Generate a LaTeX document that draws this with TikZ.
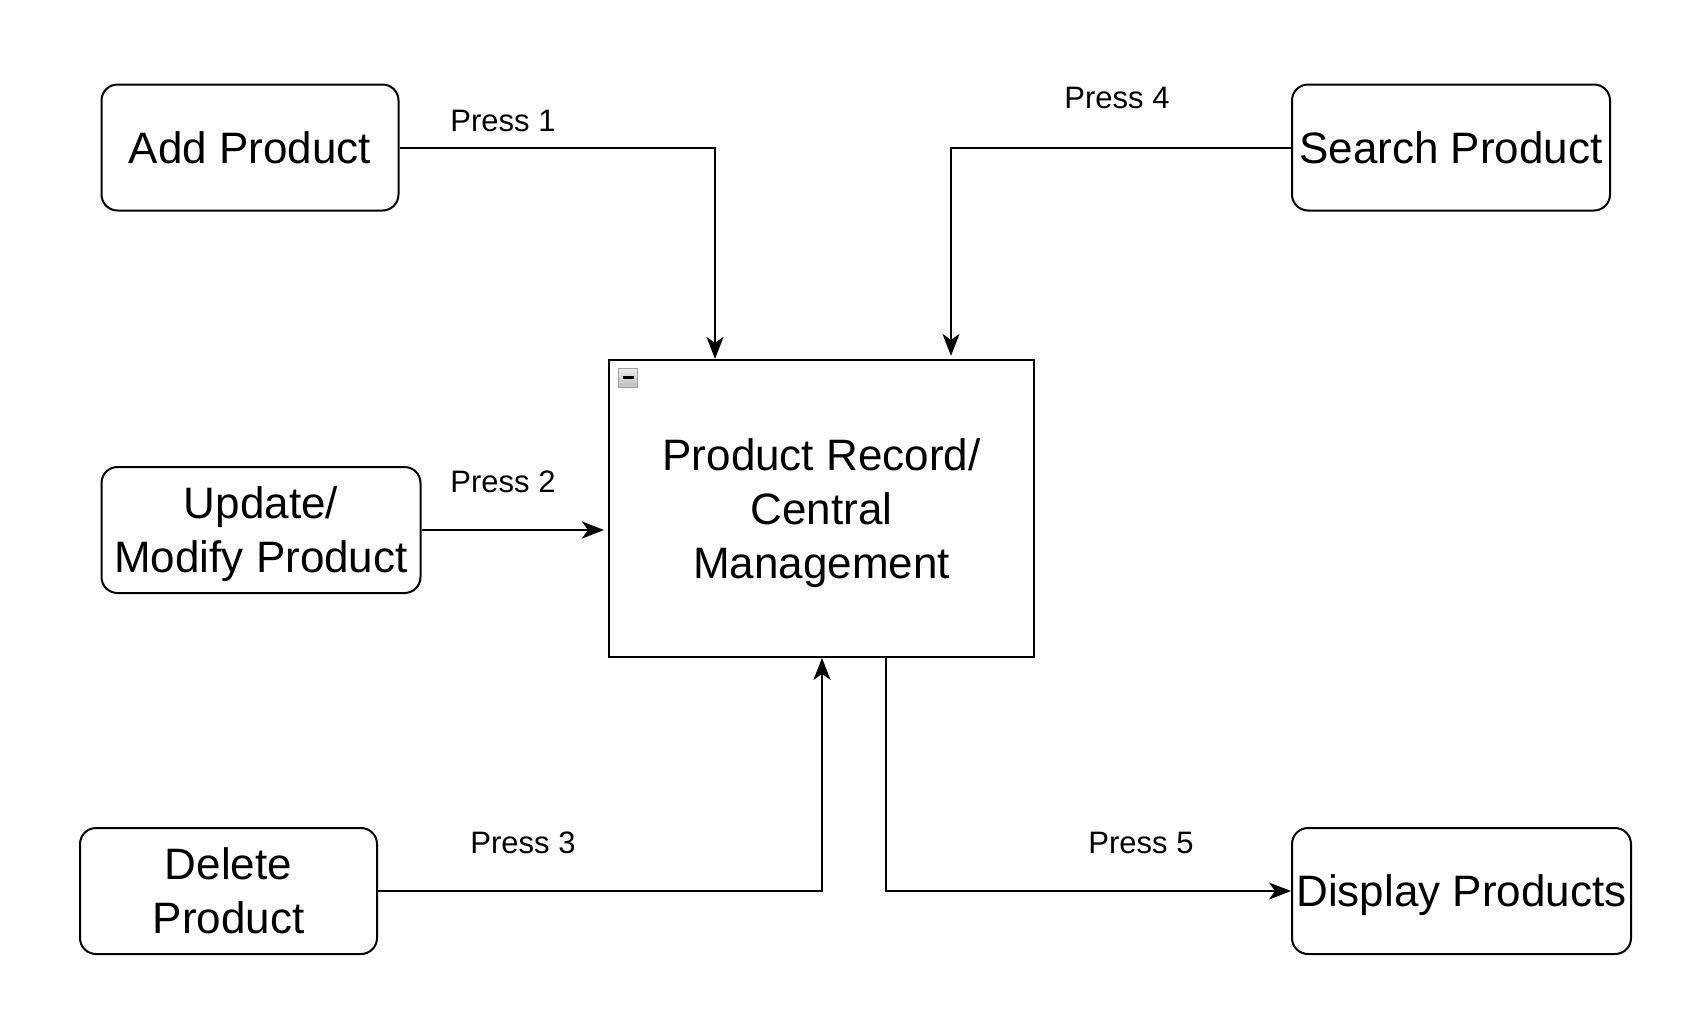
\documentclass[tikz,border=0pt]{standalone}
\usepackage{fontspec}
\setmainfont{Liberation Sans}
\usetikzlibrary{arrows.meta}
\begin{document}
\begin{tikzpicture}[x=1pt,y=-1pt,
  rbox/.style={draw,line width=2pt,rounded corners=16pt,minimum height=126pt,inner sep=0pt},
  cbox/.style={draw,line width=2pt,minimum width=425pt,minimum height=297pt,inner sep=0pt},
  txt/.style={align=center,inner sep=0pt,font=\fontsize{44}{54}\selectfont},
  lbl/.style={font=\fontsize{31}{36}\selectfont,inner sep=0pt},
  conn/.style={line width=2pt,-{Stealth[length=22pt,width=17pt,inset=6pt]}}]
\useasboundingbox (0,0) rectangle (1694,1023);
\node[rbox,minimum width=297pt] (add) at (250,147.5) {};
\node[rbox,minimum width=318pt] (search) at (1451,147.5) {};
\node[rbox,minimum width=319pt] (upd) at (261,530) {};
\node[rbox,minimum width=297pt] (del) at (228.5,891) {};
\node[rbox,minimum width=339pt] (disp) at (1461.5,891) {};
\node[cbox] (ctr) at (821.5,508.4) {};
\node[txt] (addt) at (add.center) {Add Product};
\node[txt] (searcht) at (search.center) {Search Product};
\node[txt] (updt) at ([yshift=-4.3pt]upd.center) {Update/\\Modify Product};
\node[txt] (delt) at (del.center) {Delete\\Product};
\node[txt] (dispt) at ([yshift=-4pt]disp.center) {Display Products};
\node[txt] (ctrt) at ([yshift=-4.3pt]ctr.center) {Product Record/\\Central\\Management};
% collapse icon
\node[draw=gray!75,line width=1pt,top color=gray!15,bottom color=gray!50,minimum size=19pt,inner sep=0pt] (icon) at (628,377.5) {};
\draw[line width=2.5pt] ([xshift=-5.5pt]icon.center) -- ([xshift=5.5pt]icon.center);
% connectors
\coordinate (c1) at (715,147.5);
\coordinate (c4) at (951,147.5);
\coordinate (c3) at (822,891);
\coordinate (c5) at (886,891);
\draw[conn] (add.east) -- (c1) -- (c1 |- ctr.north);
\draw[conn] (search.west) -- (c4) -- ([yshift=3pt]c4 |- ctr.north);
\draw[conn] (upd.east) -- ([xshift=-4pt]upd.east -| ctr.west);
\draw[conn] (del.east) -- (c3) -- (c3 |- ctr.south);
\draw[conn] (c5 |- ctr.south) -- (c5) -- (disp.west);
% labels
\node[lbl] (p1) at (503,121) {Press 1};
\node[lbl] (p2) at (503,482) {Press 2};
\node[lbl] (p3) at (523,843) {Press 3};
\node[lbl] (p4) at (1117,98) {Press 4};
\node[lbl] (p5) at (1141,843) {Press 5};
\end{tikzpicture}
\end{document}
